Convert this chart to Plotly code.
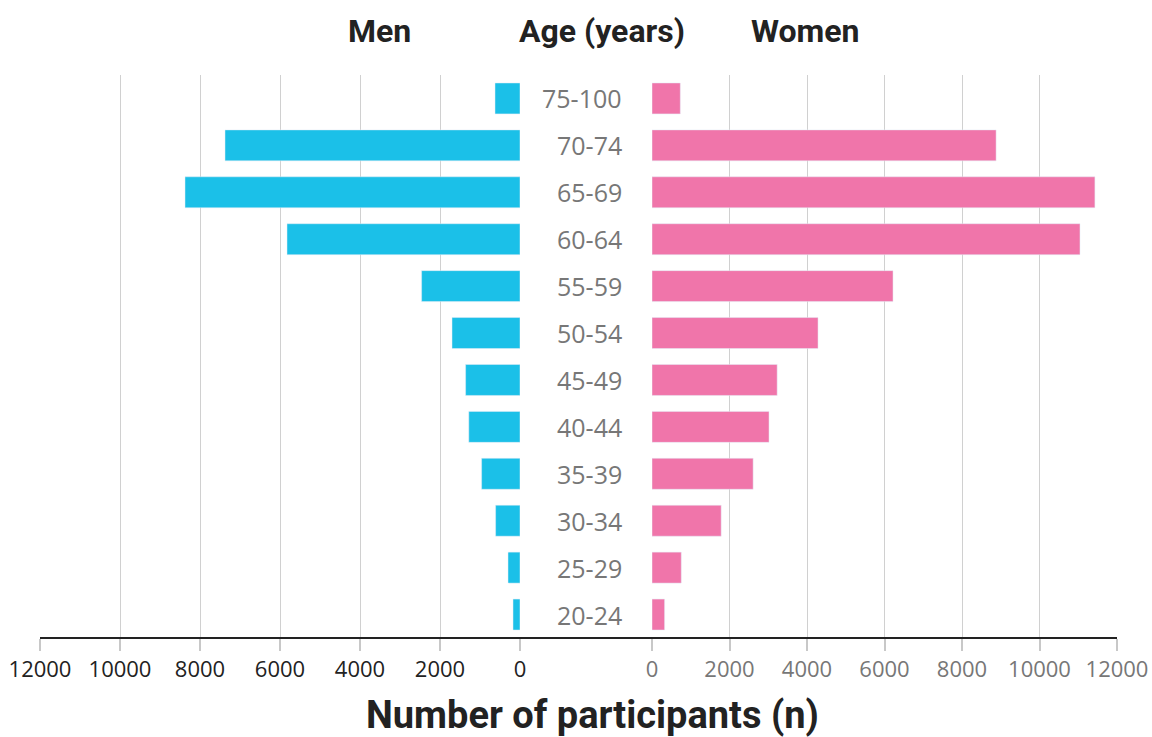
import plotly.graph_objects as go

age_groups = ["75-100", "70-74", "65-69", "60-64", "55-59", "50-54",
              "45-49", "40-44", "35-39", "30-34", "25-29", "20-24"]
men = [625, 7375, 8375, 5825, 2460, 1700, 1360, 1280, 960, 610, 300, 175]
women = [730, 8880, 11430, 11045, 6220, 4285, 3230, 3020, 2610, 1785, 755, 325]
tick_vals = [0, 2000, 4000, 6000, 8000, 10000, 12000]
tick_text = [str(v) for v in tick_vals]

W, H = 1152, 737
plot_left, plot_right, plot_top, plot_bottom = 40, 1117, 75, 638  # screen px
ml = plot_left
mr = W - plot_right
mt = plot_top
mb = H - plot_bottom

def sx(x):  # screen x -> paper
    return (x - plot_left) / (plot_right - plot_left)

def sy(y):  # screen y -> paper
    return (plot_bottom - y) / (plot_bottom - plot_top)

BLUE = "#1BC0E8"
PINK = "#F075AA"
GRID = "#d0d0d0"
TITLE_FONT = "Roboto, sans-serif"
NUM_FONT = "Open Sans, Noto Sans, sans-serif"

fig = go.Figure()
fig.add_trace(go.Bar(y=age_groups, x=men, orientation="h", marker_color=BLUE,
                     width=0.66, xaxis="x", yaxis="y", showlegend=False))
fig.add_trace(go.Bar(y=age_groups, x=women, orientation="h", marker_color=PINK,
                     width=0.66, xaxis="x2", yaxis="y", showlegend=False))

axis_common = dict(
    tickvals=tick_vals, ticktext=tick_text,
    showgrid=True, gridcolor=GRID, gridwidth=1, zeroline=False,
    ticks="outside", ticklen=12, tickcolor="#c8c8c8", tickwidth=1.5,
    showline=False, anchor="y", fixedrange=True, ticklabeloverflow="allow",
)

fig.update_layout(
    width=W, height=H,
    margin=dict(l=ml, r=mr, t=mt, b=mb, autoexpand=False),
    plot_bgcolor="white", paper_bgcolor="white",
    xaxis=dict(**axis_common, domain=[0, sx(520)], range=[12000, 0],
               tickfont=dict(family=NUM_FONT, size=22, color="#222222")),
    xaxis2=dict(**axis_common, domain=[sx(652), 1], range=[0, 12000],
                tickfont=dict(family=NUM_FONT, size=22, color="#777777")),
    yaxis=dict(categoryorder="array", categoryarray=age_groups[::-1],
               range=[-0.5, len(age_groups) - 0.5], showticklabels=False,
               showgrid=False, zeroline=False, showline=False, fixedrange=True),
)

# bottom axis line spanning both panels
fig.add_shape(type="line", xref="paper", yref="paper", x0=0, x1=1, y0=0, y1=0,
              line=dict(color="#222222", width=2))

# category labels in the middle (right-aligned)
for g in age_groups:
    fig.add_annotation(x=sx(624), xref="paper", y=g, yref="y", text=g,
                       showarrow=False, xanchor="right", yanchor="middle",
                       font=dict(family=NUM_FONT, size=25, color="#777777"))

# headers
for text, xpx in [("Men", 379), ("Age (years)", 602), ("Women", 805)]:
    fig.add_annotation(x=sx(xpx), xref="paper", y=sy(31), yref="paper",
                       xanchor="center", yanchor="middle",
                       text="<b>%s</b>" % text, showarrow=False,
                       font=dict(family=TITLE_FONT, size=32, color="#222222"))

fig.add_annotation(x=sx(592), xref="paper", y=sy(715), yref="paper",
                   xanchor="center", yanchor="middle",
                   text="<b>Number of participants (n)</b>", showarrow=False,
                   font=dict(family=TITLE_FONT, size=38, color="#222222"))

fig.write_html(
    "out.html",
    config={"displayModeBar": False},
    post_script="document.body.style.margin='0';document.body.style.overflow='hidden';",
)
